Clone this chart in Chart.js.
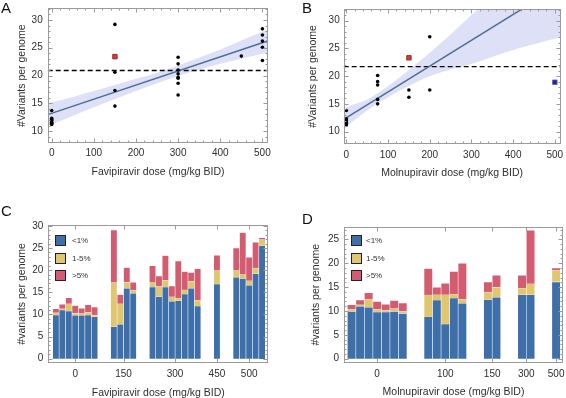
<!DOCTYPE html>
<html>
<head>
<meta charset="utf-8">
<title>Variants per genome vs antiviral dose</title>
<script src="https://cdn.jsdelivr.net/npm/chart.js@4.4.1/dist/chart.umd.min.js"></script>
<style>
  html, body { margin: 0; padding: 0; background: #fff; }
  #fig { position: relative; width: 566px; height: 398px; overflow: hidden; font-family: "Liberation Sans", Arial, sans-serif; }
  #fig canvas { position: absolute; }
  .tag { position: absolute; font-size: 15px; line-height: 15px; color: #111; }
  .key { position: absolute; font-size: 8px; color: #333; }
  .key .row { position: absolute; left: 0; height: 11px; white-space: nowrap; }
  .key .sw { position: absolute; left: 0; top: 0; width: 9px; height: 9px; border: 1px solid #222; }
  .key .lb { position: absolute; top: 0; line-height: 11px; }
</style>
</head>
<body>
<div id="fig">
  <canvas id="chartA" width="283" height="200" style="left:0;top:0"></canvas>
  <canvas id="chartB" width="283" height="200" style="left:283px;top:0"></canvas>
  <canvas id="chartC" width="283" height="205" style="left:0;top:200px"></canvas>
  <canvas id="chartD" width="283" height="205" style="left:283px;top:200px"></canvas>
  <div class="tag" style="left:1px;top:0">A</div>
  <div class="tag" style="left:302px;top:0">B</div>
  <div class="tag" style="left:1px;top:203px">C</div>
  <div class="tag" style="left:302px;top:211px">D</div>
  <div class="key" id="keyC" style="left:55px;top:235px"></div>
  <div class="key" id="keyD" style="left:351px;top:235px"></div>
</div>
<script>
// ---- panel A: favipiravir, variants per genome per animal ----
const favPtDose  = [0, 0, 0, 0, 0, 0, 0, 150, 150, 150, 150, 300, 300, 300, 300, 300, 300, 300, 300, 450, 500, 500, 500, 500, 500];
const favPtCount = [13.7, 12.3, 12.1, 11.9, 11.6, 11.4, 11.2, 29.2, 20.6, 17.3, 14.5, 23.3, 22.1, 21.0, 20.3, 19.7, 19.5, 18.6, 16.5, 23.5, 28.4, 27.3, 26.2, 25.1, 22.7];
const favFlagDose  = [150];
const favFlagCount = [23.4];
const favFitDose   = [-9.5, 514];
const favFitCount  = [12.96, 26.26];
const favBandDose  = [-9.5, 0, 100, 200, 250, 300, 400, 500, 514];
const favBandLow   = [10.9, 11.2, 14.3, 17.2, 18.6, 19.9, 22.1, 23.9, 24.2];
const favBandHigh  = [15.1, 15.2, 17.2, 19.4, 20.5, 21.8, 24.7, 27.9, 28.3];
const favThreshold = 20.9;

// ---- panel B: molnupiravir ----
const molPtDose  = [0, 0, 0, 0, 0, 0, 0, 75, 75, 75, 75, 75, 150, 150, 200, 200];
const molPtCount = [13.8, 12.3, 12.1, 11.9, 11.6, 11.4, 11.2, 20.1, 19.0, 18.4, 15.8, 15.0, 17.5, 16.2, 27.1, 17.5];
const molFlagDose  = [150];
const molFlagCount = [23.3];
const molOutDose   = [500];
const molOutCount  = [18.9];
const molFitDose   = [-6.4, 513.6];
const molFitCount  = [12.2, 36.4];
const molBandDose  = [-6.4, 0, 50, 100, 150, 200, 250, 300, 400, 513.6];
const molBandLow   = [10.5, 10.9, 13.8, 16.2, 18.2, 20.0, 21.2, 22.2, 24.7, 27.0];
const molBandHigh  = [14.1, 14.4, 15.8, 18.2, 21.1, 24.2, 27.5, 31.0, 37.5, 45.9];
const molThreshold = 21.7;

const doseTicks  = [0, 100, 200, 300, 400, 500];
const countTicks = [10, 15, 20, 25, 30];

// ---- panel C: favipiravir, per-animal stacked by frequency class ----
const freqClasses   = ['<1%', '1-5%', '>5%'];
const favDoseLabels = ['0', '150', '300', '450', '500'];
const favGroupSize  = [7, 4, 8, 1, 5];
const favLow  = [9.9, 11.0, 10.8, 9.8, 9.8, 9.9, 9.5,  7.2, 7.8, 15.9, 14.8,  16.2, 14.0, 16.2, 13.0, 13.1, 14.6, 15.9, 11.9,  16.9,  18.4, 18.1, 16.6, 19.2, 25.5];
const favMid  = [0.5, 0.3, 1.6, 0.5, 0.4, 0.6, 0.4,  10.0, 4.6, 1.4, 0.7,  1.0, 2.3, 1.5, 1.0, 0.6, 1.0, 1.6, 1.3,  3.0,  1.5, 0.9, 1.0, 1.3, 1.4];
const favHigh = [0.9, 1.0, 1.4, 1.7, 1.2, 1.7, 1.8,  11.9, 2.1, 3.3, 1.8,  3.8, 2.4, 5.6, 2.4, 8.4, 4.1, 2.0, 7.1,  3.5,  5.1, 9.5, 5.3, 5.8, 0.4];
const favBarTicks = [0, 5, 10, 15, 20, 25, 30];

// ---- panel D: molnupiravir ----
const molDoseLabels = ['0', '100', '150', '300', '500'];
const molGroupSize  = [7, 5, 2, 2, 1];
const molLow  = [9.9, 11.0, 10.8, 9.8, 9.8, 9.9, 9.5,  8.8, 12.3, 7.3, 12.7, 11.6,  12.4, 12.9,  13.4, 13.4,  16.1];
const molMid  = [0.5, 0.3, 1.6, 0.5, 0.4, 0.6, 0.4,  4.6, 1.1, 6.1, 0.8, 0.9,  1.6, 2.1,  1.4, 2.3,  2.4];
const molHigh = [0.9, 1.0, 1.4, 1.7, 1.2, 1.7, 1.8,  5.5, 1.6, 2.4, 4.8, 7.5,  2.1, 2.5,  2.7, 11.2,  0.5];
const molBarTicks = [0, 5, 10, 15, 20, 25];

// ---- styling ----
const FONT = "'Liberation Sans', Arial, Helvetica, sans-serif";
const TXT = '#2e2e2e';
const BAR_COLORS = ['#3f6fa9', '#e0c76f', '#d45c70'];
const BAND = '#dde0f6';
const FIT = '#4b6f97';

Chart.defaults.font.family = FONT;
Chart.defaults.color = TXT;
Chart.defaults.animation = false;

const xy = (xs, ys) => xs.map((x, i) => ({ x, y: ys[i] }));

// Mathematica-like frame: grey box with inward ticks on all four sides
const framePlugin = {
  id: 'frame',
  afterDatasetsDraw(chart, args, opts) {
    const { ctx, chartArea: a, scales: { x, y } } = chart;
    const L = Math.round(a.left) + 0.5, R = Math.round(a.right) - 0.5;
    const T = Math.round(a.top) + 0.5, B = Math.round(a.bottom) - 0.5;
    ctx.save();
    ctx.strokeStyle = '#9a9a9a';
    ctx.lineWidth = 1;
    ctx.strokeRect(L, T, R - L, B - T);
    ctx.beginPath();
    const hTick = (v, len) => {
      const px = Math.round(x.getPixelForValue(v)) + 0.5;
      if (px < L || px > R) return;
      ctx.moveTo(px, B); ctx.lineTo(px, B - len);
      ctx.moveTo(px, T); ctx.lineTo(px, T + len);
    };
    const vTick = (v, len) => {
      const py = Math.round(y.getPixelForValue(v)) + 0.5;
      if (py < T || py > B) return;
      ctx.moveTo(L, py); ctx.lineTo(L + len, py);
      ctx.moveTo(R, py); ctx.lineTo(R - len, py);
    };
    x.ticks.forEach(t => hTick(t.value, 4));
    y.ticks.forEach(t => vTick(t.value, 4));
    if (opts.xMinor) for (let v = Math.ceil(x.min / opts.xMinor) * opts.xMinor; v <= x.max; v += opts.xMinor) hTick(v, 2);
    if (opts.yMinor) for (let v = Math.ceil(y.min / opts.yMinor) * opts.yMinor; v <= y.max; v += opts.yMinor) vTick(v, 2);
    ctx.stroke();
    ctx.restore();
  }
};

function fixTicks(values) {
  return s => { s.ticks = values.map(v => ({ value: v })); };
}
function fixSize(prop, px) {
  return s => {
    s[prop] = px;
    s.paddingTop = s.paddingBottom = s.paddingLeft = s.paddingRight = 0;
  };
}

function axes(p) {
  return {
    x: {
      type: 'linear', min: p.xMin, max: p.xMax, offset: false, stacked: !!p.stacked,
      afterBuildTicks: fixTicks(p.xTicks),
      afterFit: fixSize('height', p.xHeight),
      grid: { display: false, drawTicks: false },
      border: { display: false },
      ticks: {
        padding: p.xTickPad, autoSkip: false, maxRotation: 0, color: TXT, font: { size: 10 },
        callback: p.xLabels ? (v, i) => p.xLabels[i] : v => v
      },
      title: { display: true, text: p.xTitle, color: TXT, font: { size: 10.5 }, padding: { top: 0, bottom: p.xTitlePad } }
    },
    y: {
      type: 'linear', min: p.yMin, max: p.yMax, stacked: !!p.stacked,
      afterBuildTicks: fixTicks(p.yTicks),
      afterFit: fixSize('width', p.yWidth),
      grid: { display: false, drawTicks: false },
      border: { display: false },
      ticks: { padding: p.yTickPad, color: TXT, font: { size: 10 } },
      title: { display: true, text: p.yTitle, color: TXT, font: { size: 10.5 }, padding: { top: p.yTitlePad, bottom: 0 } }
    }
  };
}

function scatterPanel(id, p) {
  // higher "order" is painted first (underneath)
  const datasets = [
    { type: 'line', order: 10, data: xy(p.bandX, p.bandLo), borderColor: 'rgba(0,0,0,0)', borderWidth: 0,
      pointRadius: 0, fill: false, cubicInterpolationMode: 'monotone' },
    { type: 'line', order: 9, data: xy(p.bandX, p.bandHi), borderColor: 'rgba(0,0,0,0)', borderWidth: 0,
      pointRadius: 0, fill: '-1', backgroundColor: BAND, cubicInterpolationMode: 'monotone' },
    { type: 'line', order: 4, data: xy([p.xMin, p.xMax], [p.threshold, p.threshold]), borderColor: '#000',
      borderWidth: 1.3, borderDash: [5, 3], pointRadius: 0, fill: false },
    { type: 'line', order: 3, data: xy(p.fitX, p.fitY), borderColor: FIT, borderWidth: 1.5, pointRadius: 0, fill: false },
    { order: 2, data: xy(p.ptX, p.ptY), pointRadius: 1.8, backgroundColor: '#000', borderWidth: 0 }
  ].concat(p.extra || []);
  return new Chart(document.getElementById(id), {
    type: 'scatter',
    data: { datasets },
    options: {
      responsive: false, events: [],
      layout: { padding: p.pad },
      plugins: { legend: { display: false }, tooltip: { enabled: false }, frame: { xMinor: 20, yMinor: 1 } },
      scales: axes(p)
    },
    plugins: [framePlugin]
  });
}

function groupLayout(sizes, gap) {
  const pos = [], centers = [];
  let p = 0;
  sizes.forEach(n => {
    const start = p;
    for (let i = 0; i < n; i++) pos.push(p++);
    centers.push((start + p - 1) / 2);
    p += gap;
  });
  return { pos, centers };
}

function barPanel(id, p) {
  const { pos, centers } = groupLayout(p.sizes, 2);
  const datasets = p.series.map((vals, k) => ({
    label: freqClasses[k],
    data: vals.map((v, i) => ({ x: pos[i], y: v })),
    backgroundColor: BAR_COLORS[k],
    borderColor: 'rgba(255,255,255,0.28)',
    borderWidth: 0.6,
    barPercentage: 1, categoryPercentage: 1
  }));
  return new Chart(document.getElementById(id), {
    type: 'bar',
    data: { datasets },
    options: {
      responsive: false, events: [],
      layout: { padding: p.pad },
      plugins: { legend: { display: false }, tooltip: { enabled: false }, frame: { yMinor: 1 } },
      scales: axes(Object.assign({}, p, { xTicks: centers, stacked: true }))
    },
    plugins: [framePlugin]
  });
}

function buildKey(id, labelLeft) {
  const box = document.getElementById(id);
  freqClasses.forEach((name, k) => {
    const row = document.createElement('div');
    row.className = 'row';
    row.style.top = (k * 17.6) + 'px';
    row.innerHTML = '<div class="sw" style="background:' + BAR_COLORS[k] + '"></div>' +
      '<div class="lb" style="left:' + labelLeft + 'px"></div>';
    row.querySelector('.lb').textContent = name;
    box.appendChild(row);
  });
}

scatterPanel('chartA', {
  xMin: -9.5, xMax: 514, yMin: 7.8, yMax: 32.1, xTicks: doseTicks, yTicks: countTicks,
  pad: { left: 0, top: 8.3, right: 14.7, bottom: 0 },
  yWidth: 47.7, xHeight: 56.7, yTickPad: 5, xTickPad: 4, yTitlePad: 15.4, xTitlePad: 22,
  xTitle: 'Favipiravir dose (mg/kg BID)', yTitle: '#Variants per genome',
  bandX: favBandDose, bandLo: favBandLow, bandHi: favBandHigh,
  fitX: favFitDose, fitY: favFitCount, threshold: favThreshold,
  ptX: favPtDose, ptY: favPtCount,
  extra: [
    { order: 1, data: xy(favFlagDose, favFlagCount), pointStyle: 'rect', pointRadius: 3.2,
      backgroundColor: '#d23c3c', borderColor: '#8e1f1f', borderWidth: 0.8 }
  ]
});

scatterPanel('chartB', {
  xMin: -6.4, xMax: 513.6, yMin: 7.8, yMax: 32.1, xTicks: doseTicks, yTicks: countTicks,
  pad: { left: 0, top: 9, right: 5.5, bottom: 0 },
  yWidth: 60.7, xHeight: 56.2, yTickPad: 4, xTickPad: 5, yTitlePad: 23.7, xTitlePad: 20.4,
  xTitle: 'Molnupiravir dose (mg/kg BID)', yTitle: '#Variants per genome',
  bandX: molBandDose, bandLo: molBandLow, bandHi: molBandHigh,
  fitX: molFitDose, fitY: molFitCount, threshold: molThreshold,
  ptX: molPtDose, ptY: molPtCount,
  extra: [
    { order: 1, data: xy(molFlagDose, molFlagCount), pointStyle: 'rect', pointRadius: 3.2,
      backgroundColor: '#d23c3c', borderColor: '#8e1f1f', borderWidth: 0.8 },
    { order: 1, data: xy(molOutDose, molOutCount), pointStyle: 'rect', pointRadius: 3.2,
      backgroundColor: '#23288c', borderColor: '#5a5fc0', borderWidth: 0.8 }
  ]
});

barPanel('chartC', {
  sizes: favGroupSize, series: [favLow, favMid, favHigh], xLabels: favDoseLabels,
  xMin: -1.18, xMax: 32.97, yMin: -0.9, yMax: 30.2, yTicks: favBarTicks,
  pad: { left: 0, top: 25, right: 14.7, bottom: 0 },
  yWidth: 48.3, xHeight: 42.3, yTickPad: 5, xTickPad: 5.4, yTitlePad: 15.4, xTitlePad: 6,
  xTitle: 'Favipiravir dose (mg/kg BID)', yTitle: '#variants per genome'
});

barPanel('chartD', {
  sizes: molGroupSize, series: [molLow, molMid, molHigh], xLabels: molDoseLabels,
  xMin: -0.89, xMax: 24.81, yMin: -0.84, yMax: 27.66, yTicks: molBarTicks,
  pad: { left: 0, top: 26.7, right: 3, bottom: 0 },
  yWidth: 61, xHeight: 42.3, yTickPad: 5, xTickPad: 5.4, yTitlePad: 27, xTitlePad: 6.4,
  xTitle: 'Molnupiravir dose (mg/kg BID)', yTitle: '#variants per genome'
});

buildKey('keyC', 17);
buildKey('keyD', 15);
</script>
</body>
</html>
